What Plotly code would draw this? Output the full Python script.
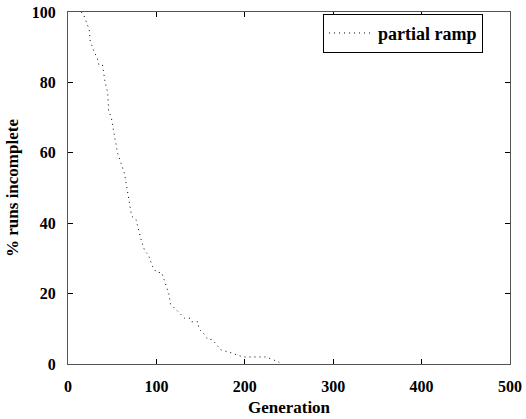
import plotly.graph_objects as go

generation = [15, 18, 24, 25, 29, 33, 35, 39, 42, 45, 46, 49, 51, 55, 56, 60, 64, 66, 68, 70,
              72, 77, 80, 83, 87, 91, 95, 100, 106, 110, 114, 116, 124, 132, 138, 140, 147,
              148, 154, 158, 163, 169, 173, 183, 193, 198, 224, 234, 239]
pct_incomplete = [100, 99, 95, 92, 89, 87, 85, 85, 80, 77, 72, 70, 67, 62, 60, 57, 54, 51, 48,
                  45, 42, 41, 38, 35, 32, 31, 28, 26, 26, 23, 20, 17, 15, 13, 13, 12, 12, 10,
                  8.5, 7, 7, 5, 4, 3.3, 2.3, 2, 2, 1, 0.5]
x_ticks = [0, 100, 200, 300, 400, 500]
y_ticks = [0, 20, 40, 60, 80, 100]

font_family = "Liberation Serif, Times New Roman, serif"

fig = go.Figure()
fig.add_trace(go.Scatter(
    x=generation, y=pct_incomplete, mode="lines", name="partial ramp",
    line=dict(color="black", width=1, dash="1px,4px"),
))

axis_common = dict(
    showgrid=False, zeroline=False, showline=True, linecolor="#555555", linewidth=1,
    mirror="ticks", ticks="inside", ticklen=5, tickcolor="black", tickwidth=1,
    automargin=False,
    tickfont=dict(family=font_family, size=16, color="black", weight="bold"),
)

fig.update_layout(
    width=526, height=419,
    margin=dict(l=68, r=16, t=12, b=55),
    paper_bgcolor="white", plot_bgcolor="white",
    font=dict(family=font_family, color="black"),
    xaxis=dict(range=[0, 500], tickvals=x_ticks, ticklabelstandoff=8,
               title=dict(text="<b>Generation</b>", font=dict(family=font_family, size=17), standoff=6),
               **axis_common),
    yaxis=dict(range=[0, 100], tickvals=y_ticks, ticklabelstandoff=8,
               title=dict(text="<b>% runs incomplete</b>", font=dict(family=font_family, size=17), standoff=8),
               **axis_common),
    showlegend=True,
    legend=dict(x=0.939, y=0.995, xanchor="right", yanchor="top", itemwidth=44,
                bordercolor="black", borderwidth=1, bgcolor="white",
                font=dict(family=font_family, size=18, color="black", weight="bold")),
)

fig.write_html("out.html", config={"displayModeBar": False},
               post_script="document.body.style.margin='0';document.body.style.overflow='hidden';")
